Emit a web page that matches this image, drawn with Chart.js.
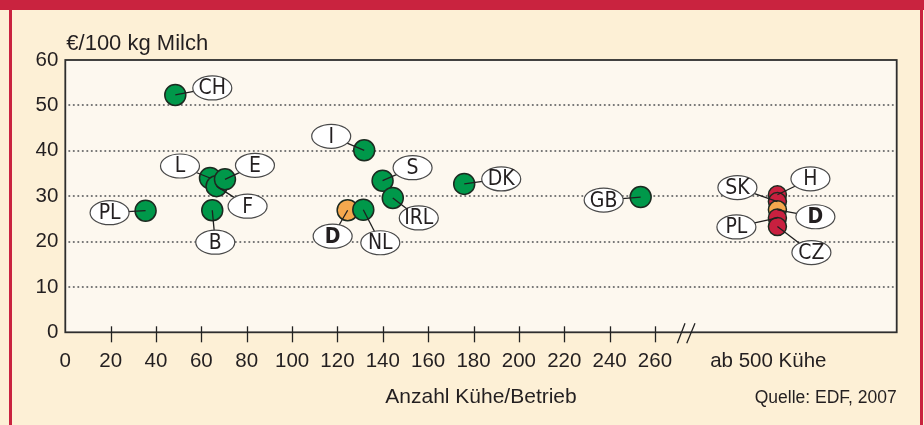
<!DOCTYPE html>
<html>
<head>
<meta charset="utf-8">
<script src="https://cdn.jsdelivr.net/npm/chart.js@4.4.1/dist/chart.umd.min.js"></script>
<style>
  html, body { margin: 0; padding: 0; background: #fdf0d6; }
  #wrap { width: 924px; height: 425px; }
</style>
</head>
<body>
<div id="wrap"><canvas id="c" width="924" height="425"></canvas></div>
<script>
// x slot used for the "ab 500 Kühe" group (not a real cow count)
var ab500 = 314;
var ab500Label = 310;

var countries = ['CH', 'PL', 'L', 'F', 'E', 'B', 'I', 'S', 'IRL', 'D', 'NL', 'DK', 'GB', 'H', 'SK', 'D', 'PL', 'CZ'];
var cows = [48.5, 35.4, 63.8, 66.7, 70.4, 64.8, 131.8, 139.9, 144.4, 124.5, 131.4, 175.9, 253.7, ab500, ab500, ab500, ab500, ab500];
var price = [52.3, 26.8, 34.0, 32.2, 33.7, 26.9, 40.1, 33.4, 29.6, 26.9, 27.0, 32.7, 29.8, 30.3, 28.8, 27.0, 25.2, 23.3];
// g = EU land, o = Deutschland, r = ab 500 Kühe
var kind = ['g', 'g', 'g', 'g', 'g', 'g', 'g', 'g', 'g', 'o', 'g', 'g', 'g', 'r', 'r', 'o', 'r', 'r'];

var xTicks = [0, 20, 40, 60, 80, 100, 120, 140, 160, 180, 200, 220, 240, 260];
var yTicks = [0, 10, 20, 30, 40, 50, 60];

// label bubble offsets in pixels from the point
var labelOffsets = [[37, -7], [-36, 2], [-30, -12], [31, 20], [30, -14], [3, 32], [-33, -14], [30, -13], [26, 20],
  [-15, 26], [17, 33], [37, -5], [-37, 3], [33, -16], [-40, -14], [38, 7], [-41, 9], [34, 26]];

var colors = { g: '#00984a', o: '#f5a84e', r: '#c8203f' };
var FONT = '"Liberation Sans", Arial, sans-serif';
var NARROW = '"Liberation Sans Narrow", "DejaVu Sans Condensed", "Liberation Sans", sans-serif';

var points = cows.map(function (v, i) { return { x: v, y: price[i] }; });

var deco = {
  id: 'deco',
  beforeDraw: function (chart) {
    var ctx = chart.ctx, a = chart.chartArea, ys = chart.scales.y;
    ctx.save();
    ctx.fillStyle = '#fdf0d6';
    ctx.fillRect(0, 0, chart.width, chart.height);
    ctx.fillStyle = '#c9233f';
    ctx.fillRect(0, 0, chart.width, 10);
    ctx.fillRect(9, 10, 3, chart.height - 10);
    ctx.fillRect(920, 10, 3, chart.height - 10);
    ctx.fillStyle = '#fdf8ef';
    ctx.fillRect(a.left, a.top, a.right - a.left, a.bottom - a.top);
    // dotted grid
    ctx.strokeStyle = '#707070';
    ctx.lineWidth = 2.2;
    ctx.lineCap = 'round';
    ctx.setLineDash([0, 4.5]);
    yTicks.forEach(function (v) {
      if (v <= 0 || v >= 60) return;
      var py = Math.round(ys.getPixelForValue(v));
      ctx.beginPath();
      ctx.moveTo(a.left + 4, py);
      ctx.lineTo(a.right - 3, py);
      ctx.stroke();
    });
    ctx.restore();
  },
  afterDatasetsDraw: function (chart) {
    var ctx = chart.ctx, a = chart.chartArea, xs = chart.scales.x;
    var meta = chart.getDatasetMeta(0);
    ctx.save();
    // frame
    ctx.strokeStyle = '#2e2e2e';
    ctx.lineWidth = 1.8;
    ctx.strokeRect(a.left, a.top, a.right - a.left, a.bottom - a.top);
    // x tick marks
    ctx.lineWidth = 1.3;
    ctx.strokeStyle = '#222';
    xTicks.forEach(function (v) {
      if (v === 0) return;
      var px = Math.round(xs.getPixelForValue(v)) + 0.5;
      ctx.beginPath();
      ctx.moveTo(px, a.bottom - 6);
      ctx.lineTo(px, a.bottom + 10);
      ctx.stroke();
    });
    // axis break
    var bx = xs.getPixelForValue(273.7);
    ctx.beginPath();
    ctx.moveTo(bx - 8.7, a.bottom + 11); ctx.lineTo(bx - 1, a.bottom - 9);
    ctx.moveTo(bx + 0.7, a.bottom + 11); ctx.lineTo(bx + 9, a.bottom - 9);
    ctx.stroke();

    // leader lines
    ctx.strokeStyle = '#1f1f1f';
    ctx.lineWidth = 1.3;
    meta.data.forEach(function (el, i) {
      var o = labelOffsets[i];
      ctx.beginPath();
      ctx.moveTo(el.x, el.y);
      ctx.lineTo(el.x + o[0], el.y + o[1]);
      ctx.stroke();
    });
    // bubbles
    ctx.textAlign = 'center';
    ctx.textBaseline = 'middle';
    meta.data.forEach(function (el, i) {
      var o = labelOffsets[i];
      var cx = el.x + o[0], cy = el.y + o[1];
      ctx.beginPath();
      ctx.ellipse(cx, cy, 19.5, 12, 0, 0, Math.PI * 2);
      ctx.fillStyle = '#ffffff';
      ctx.fill();
      ctx.strokeStyle = '#4a4a4a';
      ctx.lineWidth = 1.2;
      ctx.stroke();
      ctx.fillStyle = '#231f20';
      ctx.font = (countries[i] === 'D' ? 'bold ' : '') + '21px ' + NARROW;
      ctx.fillText(countries[i], cx, cy + 1);
    });

    // y title and source
    ctx.fillStyle = '#231f20';
    ctx.textAlign = 'left';
    ctx.font = '22px ' + FONT;
    ctx.fillText('€/100 kg Milch', a.left + 1, 44);
    ctx.textAlign = 'right';
    ctx.font = '17.5px ' + FONT;
    ctx.fillText('Quelle: EDF, 2007', a.right, 398);
    ctx.restore();
  }
};

new Chart(document.getElementById('c'), {
  type: 'scatter',
  data: {
    datasets: [{
      data: points,
      pointRadius: function (c) { return kind[c.dataIndex] === 'r' || c.dataIndex === 15 ? 9 : 10.5; },
      pointBackgroundColor: function (c) { return colors[kind[c.dataIndex]]; },
      pointBorderColor: '#1c2a20',
      pointBorderWidth: 1.5,
      pointHoverRadius: 10,
      clip: false
    }]
  },
  options: {
    responsive: false,
    animation: false,
    events: [],
    layout: { padding: { left: 10, top: 60, right: 27.3, bottom: 0 } },
    plugins: { legend: { display: false }, tooltip: { enabled: false } },
    scales: {
      x: {
        type: 'linear',
        min: 0,
        max: 366.6,
        afterFit: function (s) { s.height = 92.7; },
        afterBuildTicks: function (s) {
          s.ticks = xTicks.concat([ab500Label]).map(function (v) { return { value: v }; });
        },
        grid: { display: false, drawTicks: false },
        border: { display: false },
        ticks: {
          autoSkip: false,
          maxRotation: 0,
          padding: 17,
          color: '#231f20',
          font: { family: FONT, size: 20.5 },
          callback: function (v) { return v === ab500Label ? 'ab 500 Kühe' : v; }
        },
        title: {
          display: true,
          text: 'Anzahl Kühe/Betrieb',
          color: '#231f20',
          font: { family: FONT, size: 21 },
          padding: { top: 0, bottom: 15 }
        }
      },
      y: {
        min: 0,
        max: 60,
        afterFit: function (s) { s.width = 55.3; },
        afterBuildTicks: function (s) {
          s.ticks = yTicks.map(function (v) { return { value: v }; });
        },
        grid: { display: false, drawTicks: false },
        border: { display: false },
        ticks: {
          padding: 7,
          color: '#231f20',
          font: { family: FONT, size: 20.5 }
        }
      }
    }
  },
  plugins: [deco]
});
</script>
</body>
</html>
